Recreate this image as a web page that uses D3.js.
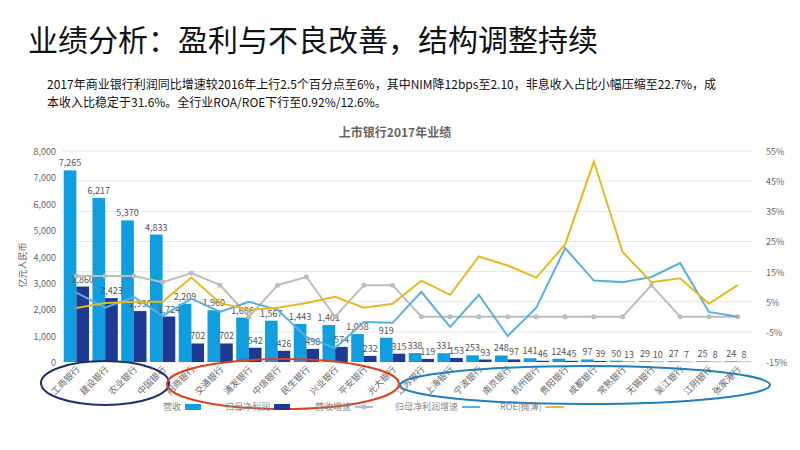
<!DOCTYPE html>
<html><head><meta charset="utf-8">
<script src="https://cdn.jsdelivr.net/npm/d3@7"></script>
<style>body{margin:0;background:#fff;font-family:"Noto Sans CJK SC","Noto Sans",sans-serif}</style>
</head><body><svg id="c" width="800" height="450"></svg>
<script>
const banks = ["工商银行","建设银行","农业银行","中国银行","招商银行","交通银行","浦发银行","中信银行","民生银行","兴业银行","平安银行","光大银行","江苏银行","上海银行","宁波银行","南京银行","杭州银行","贵阳银行","成都银行","常熟银行","无锡银行","吴江银行","江阴银行","张家港行"];
const revenue = [7265,6217,5370,4833,2209,1960,1686,1567,1443,1401,1058,919,338,331,253,248,141,124,97,50,29,27,25,24];
const profit = [2860,2423,1930,1724,702,702,542,426,498,574,232,315,119,153,93,97,46,45,39,13,10,7,8,8];
const revGrowth = [13.5,13.5,13.5,11.5,14.5,10.5,0,10.5,13.2,0,10.5,10.5,0,0,0,0,0,0,0,0,10.5,0,0,0];
const profitGrowth = [8,3,6.6,0.3,6,1.6,5,2.3,-6.7,-10.4,-1.7,-2,8.3,-3.4,7.3,-6.4,3,22.8,12,11.5,13.2,17.8,1.6,0];
const roe = [2.9,4.6,5,5,13,4.6,2.3,3,4.6,6.6,3,4.3,12,7.3,20,17,13,24,51.5,21.5,11.5,12.8,4.3,10.5];
const leftTicks = d3.range(0, 8001, 1000);
const rightTicks = d3.range(-15, 56, 10);

const svg = d3.select("#c");
svg.append("text").attr("x",28).attr("y",51).attr("font-size",30).attr("fill","#111").text("业绩分析：盈利与不良改善，结构调整持续");
svg.append("text").attr("x",47).attr("y",89).attr("font-size",12).attr("fill","#111")
  .text("2017年商业银行利润同比增速较2016年上行2.5个百分点至6%，其中NIM降12bps至2.10，非息收入占比小幅压缩至22.7%，成");
svg.append("text").attr("x",47).attr("y",107).attr("font-size",12).attr("fill","#111")
  .text("本收入比稳定于31.6%。全行业ROA/ROE下行至0.92%/12.6%。");
svg.append("text").attr("x",395).attr("y",137).attr("text-anchor","middle").attr("font-size",12).attr("font-weight","bold").attr("fill","#666").text("上市银行2017年业绩");

const L = 62, R = 752, T = 151, B = 362;
const x = d3.scaleBand().domain(banks).range([L, R]).paddingInner(0.12).paddingOuter(0.06);
const yL = d3.scaleLinear().domain([0, 8000]).range([B, T]);
const yR = d3.scaleLinear().domain([-15, 55]).range([B, T]);

svg.append("g").selectAll("line").data(rightTicks).join("line")
  .attr("x1",L).attr("x2",R).attr("y1",d=>yR(d)).attr("y2",d=>yR(d)).attr("stroke","#e6e6e6");
svg.append("g").selectAll("text").data(leftTicks).join("text")
  .attr("x",56).attr("y",d=>yL(d)+4).attr("text-anchor","end").attr("font-size",9).attr("fill","#666").text(d3.format(","));
svg.append("g").selectAll("text").data(rightTicks).join("text")
  .attr("x",766).attr("y",d=>yR(d)+4).attr("font-size",9).attr("fill","#666").text(d=>d+"%");
svg.append("text").attr("transform","translate(26,265) rotate(-90)").attr("text-anchor","middle").attr("font-size",9).attr("fill","#666").text("亿元人民币");

const bw = x.bandwidth()/2;
svg.append("g").selectAll("rect").data(revenue).join("rect")
  .attr("x",(d,i)=>x(banks[i])).attr("width",bw).attr("y",d=>yL(d)).attr("height",d=>B-yL(d)).attr("fill","#0f9ee0");
svg.append("g").selectAll("rect").data(profit).join("rect")
  .attr("x",(d,i)=>x(banks[i])+bw).attr("width",bw).attr("y",d=>yL(d)).attr("height",d=>B-yL(d)).attr("fill","#1f3a93");
const fmt = d3.format(",");
svg.append("g").selectAll("text").data(revenue).join("text")
  .attr("x",(d,i)=>x(banks[i])+bw/2).attr("y",d=>yL(d)-4).attr("text-anchor","middle").attr("font-size",9).attr("fill","#555").text(fmt);
svg.append("g").selectAll("text").data(profit).join("text")
  .attr("x",(d,i)=>x(banks[i])+bw*1.5).attr("y",d=>yL(d)-4).attr("text-anchor","middle").attr("font-size",9).attr("fill","#555").text(fmt);

const cx = i => x(banks[i]) + x.bandwidth()/2;
const line = d3.line().x((d,i)=>cx(i)).y(d=>yR(d));
svg.append("path").datum(revGrowth).attr("d",line).attr("fill","none").attr("stroke","#bdbdbd").attr("stroke-width",2);
svg.append("g").selectAll("circle").data(revGrowth).join("circle").attr("cx",(d,i)=>cx(i)).attr("cy",d=>yR(d)).attr("r",2.5).attr("fill","#bdbdbd");
svg.append("path").datum(profitGrowth).attr("d",line).attr("fill","none").attr("stroke","#5aaee0").attr("stroke-width",2);
svg.append("path").datum(roe).attr("d",line).attr("fill","none").attr("stroke","#e8b820").attr("stroke-width",2);

svg.append("g").selectAll("text").data(banks).join("text")
  .attr("transform",(d,i)=>`translate(${cx(i)+4},${B+8}) rotate(-45)`)
  .attr("text-anchor","end").attr("font-size",9).attr("fill","#666").text(d=>d);

svg.append("ellipse").attr("cx",105).attr("cy",383).attr("rx",64).attr("ry",22).attr("fill","none").attr("stroke","#1f2f6e").attr("stroke-width",2);
svg.append("ellipse").attr("cx",283).attr("cy",384).attr("rx",116).attr("ry",25).attr("fill","none").attr("stroke","#d9431e").attr("stroke-width",2);
svg.append("ellipse").attr("cx",585).attr("cy",385).attr("rx",185).attr("ry",19).attr("fill","none").attr("stroke","#1f7fc0").attr("stroke-width",2);

const legend = [
  {t:"营收", x:163, c:"#0f9ee0", k:"rect"},
  {t:"归母净利润", x:225, c:"#1f3a93", k:"rect"},
  {t:"营收增速", x:315, c:"#bdbdbd", k:"dot"},
  {t:"归母净利润增速", x:395, c:"#5aaee0", k:"line"},
  {t:"ROE(摊薄)", x:500, c:"#e8b820", k:"line"}
];
const lg = svg.append("g").selectAll("g").data(legend).join("g").attr("transform",d=>`translate(${d.x},410)`);
lg.append("text").attr("font-size",9).attr("fill","#888").text(d=>d.t);
lg.each(function(d){
  const g = d3.select(this), w = this.getBBox().width + 4;
  if (d.k==="rect") g.append("rect").attr("x",w).attr("y",-6).attr("width",16).attr("height",6).attr("fill",d.c);
  else { g.append("line").attr("x1",w).attr("x2",w+18).attr("y1",-3).attr("y2",-3).attr("stroke",d.c).attr("stroke-width",2);
    if (d.k==="dot") g.append("circle").attr("cx",w+9).attr("cy",-3).attr("r",2.5).attr("fill",d.c); }
});
</script></body></html>
